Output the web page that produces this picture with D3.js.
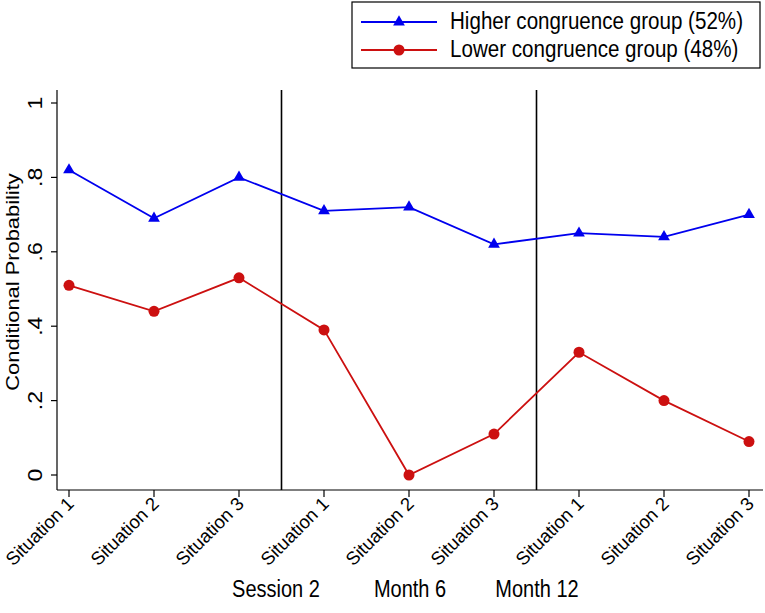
<!DOCTYPE html>
<html><head><meta charset="utf-8">
<script src="https://cdn.jsdelivr.net/npm/d3@7"></script>
<style>body{margin:0;background:#fff}svg{display:block;font-family:"Liberation Sans",Arial,sans-serif}</style>
</head><body><svg id="c" width="765" height="613"></svg>
<script>
const categories = ["Situation 1","Situation 2","Situation 3","Situation 1","Situation 2","Situation 3","Situation 1","Situation 2","Situation 3"];
const higher = [0.82,0.69,0.80,0.71,0.72,0.62,0.65,0.64,0.70];
const lower = [0.51,0.44,0.53,0.39,0.00,0.11,0.33,0.20,0.09];
const yTicks = [0,0.2,0.4,0.6,0.8,1];
const yTickLabels = ["0",".2",".4",".6",".8","1"];
const periods = ["Session 2","Month 6","Month 12"];
const seriesNames = ["Higher congruence group (52%)","Lower congruence group (48%)"];

const svg = d3.select("#c");
const pL = 57, pR = 763, pT = 90, pB = 490;
const S = 1.15; // vertical text stretch seen in the reference
const x = d3.scaleLinear().domain([0,8]).range([69,749]);
const y = d3.scaleLinear().domain([0,1]).range([475,103]);

// axes lines
svg.append("line").attr("x1",pL).attr("x2",pL).attr("y1",pT).attr("y2",pB).attr("stroke","#000").attr("stroke-width",1.2);
svg.append("line").attr("x1",pL).attr("x2",pR).attr("y1",pB).attr("y2",pB).attr("stroke","#000").attr("stroke-width",1.2);

// y ticks
const yg = svg.append("g");
yTicks.forEach((t,i)=>{
  yg.append("line").attr("x1",pL-6).attr("x2",pL).attr("y1",y(t)).attr("y2",y(t)).attr("stroke","#000").attr("stroke-width",1.2);
  yg.append("text").attr("transform",`translate(${pL-15},${y(t)}) scale(1,${S}) rotate(-90)`).attr("text-anchor","middle")
    .attr("font-size",20).text(yTickLabels[i]);
});
svg.append("text").attr("transform",`translate(19,${(pT+pB)/2-8}) scale(1,${S}) rotate(-90)`).attr("text-anchor","middle")
  .attr("font-size",19).text("Conditional Probability");

// x ticks
categories.forEach((c,i)=>{
  svg.append("line").attr("x1",x(i)).attr("x2",x(i)).attr("y1",pB).attr("y2",pB+7).attr("stroke","#000").attr("stroke-width",1.2);
  svg.append("text").attr("transform",`translate(${x(i)+6},${pB+15}) rotate(-45)`).attr("text-anchor","end")
    .attr("font-size",18.5).text(c);
});

// separators
[2.5,5.5].forEach(v=>{
  svg.append("line").attr("x1",x(v)).attr("x2",x(v)).attr("y1",pT).attr("y2",pB).attr("stroke","#000").attr("stroke-width",1.6);
});

// period labels
const px = [276,410,537];
periods.forEach((p,i)=>{
  svg.append("text").attr("transform",`translate(${px[i]},${597}) scale(1,${S})`).attr("text-anchor","middle").attr("font-size",20).text(p);
});

const blue = "#0000ee", red = "#cc1010";
const line = d3.line().x((d,i)=>x(i)).y(d=>y(d));
svg.append("path").attr("d",line(higher)).attr("fill","none").attr("stroke",blue).attr("stroke-width",1.8);
svg.append("path").attr("d",line(lower)).attr("fill","none").attr("stroke",red).attr("stroke-width",1.8);
const tri = d3.symbol().type(d3.symbolTriangle).size(60);
svg.selectAll(".tri").data(higher).enter().append("path").attr("d",tri)
  .attr("transform",(d,i)=>`translate(${x(i)},${y(d)})`).attr("fill",blue);
svg.selectAll(".cir").data(lower).enter().append("circle").attr("cx",(d,i)=>x(i)).attr("cy",d=>y(d)).attr("r",5.5).attr("fill",red);

// legend
const lg = svg.append("g");
lg.append("rect").attr("x",352).attr("y",2).attr("width",408).attr("height",66).attr("fill","#fff").attr("stroke","#000").attr("stroke-width",1.2);
[[blue,"tri"],[red,"cir"]].forEach((s,i)=>{
  const ly = 22 + i*28;
  lg.append("line").attr("x1",361).attr("x2",437).attr("y1",ly).attr("y2",ly).attr("stroke",s[0]).attr("stroke-width",1.8);
  if(s[1]==="tri") lg.append("path").attr("d",tri).attr("transform",`translate(399,${ly})`).attr("fill",s[0]);
  else lg.append("circle").attr("cx",399).attr("cy",ly).attr("r",5.5).attr("fill",s[0]);
  lg.append("text").attr("transform",`translate(450,${ly+7}) scale(1,${S})`).attr("font-size",20.6).text(seriesNames[i]);
});
</script></body></html>
